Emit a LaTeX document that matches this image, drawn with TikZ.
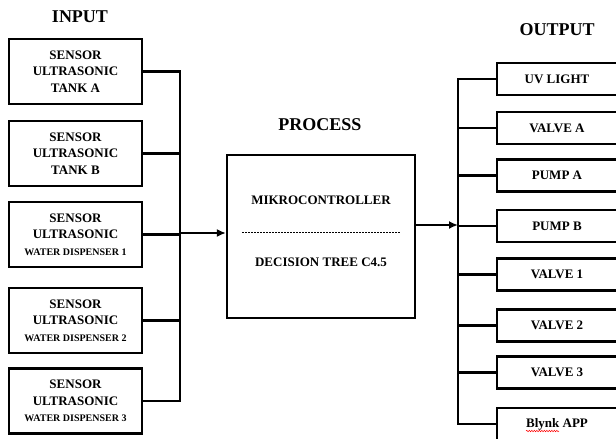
\documentclass[tikz,border=0pt]{standalone}
\usepackage{fontspec}
\setmainfont{Liberation Serif}
\usetikzlibrary{arrows.meta,positioning,decorations.pathmorphing}
\tikzset{>={Latex[length=9pt,width=8pt]}}
\tikzset{
  wire/.style={line width=2.2pt},
  heading/.style={font=\fontsize{18}{20}\selectfont\bfseries},
  inbox/.style={draw, line width=2.2pt, minimum width=133pt, minimum height=65pt,
    inner sep=0pt, align=center, font=\fontsize{13}{16.5}\selectfont\bfseries},
  outbox/.style={draw, line width=2.2pt, minimum width=120pt, minimum height=32pt,
    inner sep=0pt, font=\fontsize{13}{15}\selectfont\bfseries},
}
\newcommand{\smallline}[1]{{\fontsize{10}{16.5}\selectfont #1}}
\begin{document}
\begin{tikzpicture}[x=1pt, y=-1pt]
  \useasboundingbox (0,0) rectangle (616,439);
  % headings
  \node[heading] (inhead) at (80,17) {INPUT};
  \node[heading] (prochead) at (320,125) {PROCESS};
  \node[heading] (outhead) at (557,30) {OUTPUT};
  % input sensors
  \node[inbox] (in1) at (75.5,71.5) {SENSOR\\ULTRASONIC\\TANK A};
  \node[inbox] (in2) at (75.5,153.5) {SENSOR\\ULTRASONIC\\TANK B};
  \foreach \i/\y in {3/234.5, 4/320.5, 5/401}
    \node[inbox] (in\i) at (75.5,\y) {SENSOR\\ULTRASONIC\\\smallline{WATER DISPENSER \the\numexpr\i-2\relax}};
  % process
  \node[draw, line width=2.2pt, minimum width=188pt, minimum height=163pt] (proc) at (321,236.5) {};
  \node[font=\fontsize{13}{15}\selectfont\bfseries] (mcu) at (321,200) {MIKROCONTROLLER};
  \node[font=\fontsize{13}{15}\selectfont\bfseries] (dtree) at (321,262) {DECISION TREE C4.5};
  \coordinate (sepl) at (242,232);
  \coordinate (sepr) at (400,232);
  \draw[line width=0.5pt, dash pattern=on 2pt off 1pt] (sepl) -- (sepr);
  % outputs
  \foreach \i/\y/\t in {1/79/UV LIGHT, 2/128/VALVE A, 3/175.5/PUMP A, 4/226/PUMP B,
      5/274.5/VALVE 1, 6/325.5/VALVE 2, 7/372.5/VALVE 3, 8/424/Blynk APP}
    \node[outbox] (out\i) at (557,\y) {\t};
  \coordinate (squigl) at (526,431);
  \coordinate (squigr) at (559,431);
  \draw[red, line width=0.5pt, decorate, decoration={snake, amplitude=0.7pt, segment length=2.5pt}] (squigl) -- (squigr);
  % connectors
  \coordinate (inbus) at (180,233);
  \foreach \i in {1,...,5}
    \draw[wire] (in\i.east) -| (inbus);
  \draw[wire,->] (inbus) -- (inbus -| proc.west);
  \coordinate (outbus) at (458,225);
  \draw[wire,->] (outbus -| proc.east) -- (outbus);
  \foreach \i in {1,...,8}
    \draw[wire] (outbus) |- (out\i.west);
\end{tikzpicture}
\end{document}
